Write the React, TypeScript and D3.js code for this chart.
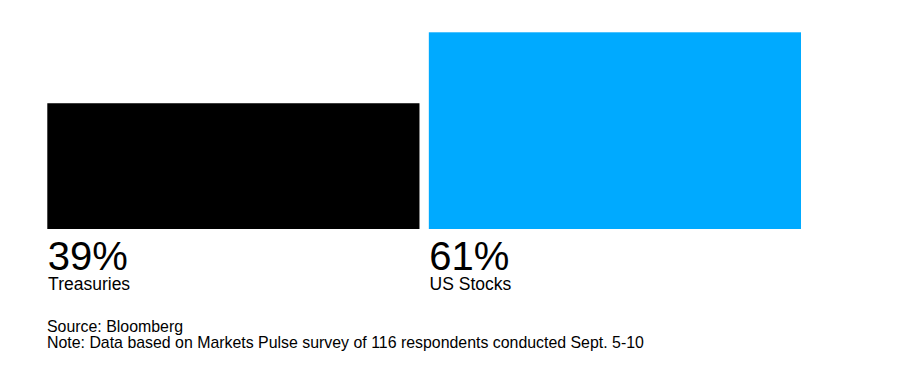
import React from "react";
import * as d3 from "d3";

const categories = ["Treasuries", "US Stocks"];
const values = [39, 61];
const valueLabels = ["39%", "61%"];
const colors = ["#000000", "#00aaff"];
const footnotes = [
  "Source: Bloomberg",
  "Note: Data based on Markets Pulse survey of 116 respondents conducted Sept. 5-10",
];

const W = 900;
const H = 382;
const FONT = "'Liberation Sans', Arial, Helvetica, sans-serif";

export default function App() {
  const x = d3
    .scaleBand<string>()
    .domain(categories)
    .range([47.3, 801])
    .paddingInner(0.0245)
    .paddingOuter(0);
  const y = d3
    .scaleLinear()
    .domain([0, d3.max(values) as number])
    .range([229, 32.3]);

  return (
    <svg
      width={W}
      height={H}
      style={{ position: "absolute", left: 0, top: 0, background: "#fff" }}
      fontFamily={FONT}
    >
      <rect x={0} y={0} width={W} height={H} fill="#fff" />
      {categories.map((c, i) => {
        const x0 = x(c) as number;
        return (
          <g key={c}>
            <rect
              x={x0}
              y={y(values[i])}
              width={x.bandwidth()}
              height={y(0) - y(values[i])}
              fill={colors[i]}
            />
            <text fill="#000">
              <tspan x={x0 + 0.5} y={269.5} fontSize={40}>
                {valueLabels[i]}
              </tspan>
              <tspan x={x0 + 0.8} y={290} fontSize={17.5}>
                {c}
              </tspan>
            </text>
          </g>
        );
      })}
      {footnotes.map((t, i) => (
        <text key={i} x={47} y={331.8 + i * 16.4} fontSize={15.9} fill="#000">
          {t}
        </text>
      ))}
    </svg>
  );
}
